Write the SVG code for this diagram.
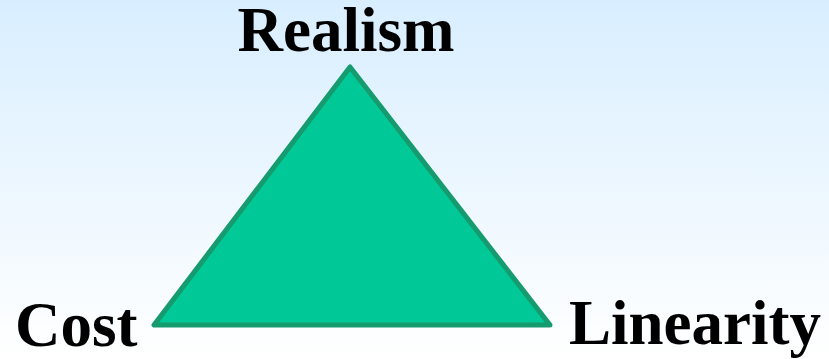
<svg xmlns="http://www.w3.org/2000/svg" width="829" height="359" viewBox="0 0 829 359">
<defs>
<linearGradient id="bg" x1="0" y1="0" x2="0" y2="1">
<stop offset="0" stop-color="#d8eeff"/>
<stop offset="1" stop-color="#ffffff"/>
</linearGradient>
<style>
.lbl{font-family:"Liberation Serif",serif;font-weight:bold;font-size:63px;fill:#000}
.tri{fill:#00c896;stroke:#169b6f;stroke-width:5;stroke-linejoin:round}
</style>
</defs>
<rect width="829" height="359" fill="url(#bg)"/>
<g id="triangle">
<polygon class="tri" points="350,67 154,325 550,325"/>
</g>
<g id="connectors"/>
<g id="realism"><text class="lbl" x="346" y="51" text-anchor="middle">Realism</text></g>
<g id="cost"><text class="lbl" x="15" y="346">Cost</text></g>
<g id="linearity"><text class="lbl" x="569" y="344">Linearity</text></g>
</svg>
